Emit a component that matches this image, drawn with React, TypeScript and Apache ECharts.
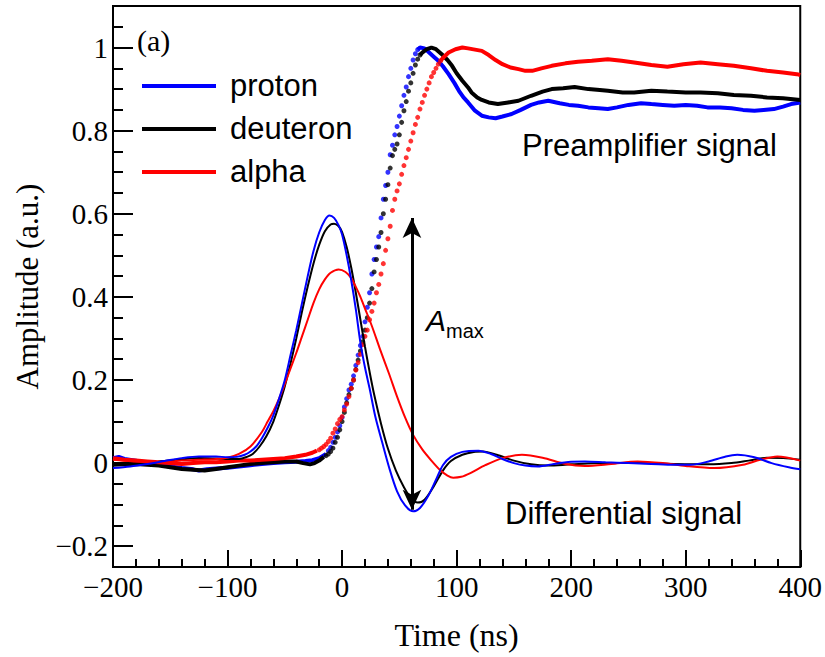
import React, { useEffect, useRef } from "react";
import * as echarts from "echarts";

// ---------------- data (time in ns, amplitude in a.u.) ----------------
const xTicks = [-200, -100, 0, 100, 200, 300, 400];
const yMajorTicks = [-0.2, 0, 0.2, 0.4, 0.6, 0.8, 1.0];
const particles = ["proton", "deuteron", "alpha"];
const colors = ["#0000ff", "#000000", "#ff0000"];

// Differential (shaped) signals
const protonDiff = [
  [-200, -0.012], [-185, -0.008], [-170, -0.002], [-155, 0.005], [-140, 0.012], [-125, 0.016],
  [-110, 0.016], [-100, 0.014], [-92, 0.015], [-85, 0.02], [-80, 0.028], [-75, 0.04], [-70, 0.06],
  [-65, 0.085], [-60, 0.115], [-55, 0.155], [-50, 0.2], [-45, 0.26], [-40, 0.32], [-35, 0.385],
  [-30, 0.45], [-25, 0.51], [-20, 0.555], [-15, 0.585], [-11, 0.596], [-7, 0.59], [-3, 0.572],
  [0, 0.55], [4, 0.5], [8, 0.44], [12, 0.37], [16, 0.29], [20, 0.23], [24, 0.18], [29, 0.112],
  [35, 0.05], [41, -0.01], [48, -0.068], [55, -0.102], [62, -0.116], [68, -0.108], [75, -0.08],
  [82, -0.04], [88, -0.005], [95, 0.015], [105, 0.027], [119, 0.03], [130, 0.022], [140, 0.01],
  [150, 0.0], [160, -0.006], [171, -0.008], [185, -0.002], [200, 0.003], [212, 0.004], [230, 0.002],
  [250, 0.0], [270, -0.002], [290, -0.004], [304, -0.004], [320, 0.004], [335, 0.016], [345, 0.02],
  [360, 0.014], [375, 0.0], [390, -0.01], [400, -0.015],
];
const deuteronDiff = [
  [-200, -0.003], [-185, -0.002], [-170, 0.0], [-155, 0.005], [-140, 0.009], [-125, 0.012],
  [-110, 0.011], [-100, 0.01], [-90, 0.01], [-83, 0.015], [-78, 0.022], [-72, 0.04], [-66, 0.065],
  [-60, 0.1], [-55, 0.14], [-50, 0.185], [-45, 0.24], [-40, 0.3], [-35, 0.365], [-30, 0.425],
  [-25, 0.48], [-20, 0.525], [-15, 0.558], [-10, 0.574], [-7, 0.576], [-3, 0.57], [0, 0.556],
  [4, 0.52], [8, 0.47], [12, 0.41], [16, 0.345], [20, 0.28], [24, 0.22], [28, 0.165], [34, 0.095],
  [40, 0.035], [47, -0.018], [54, -0.058], [60, -0.084], [66, -0.095], [72, -0.088], [80, -0.056],
  [88, -0.018], [95, 0.005], [105, 0.02], [115, 0.027], [123, 0.028], [135, 0.02], [150, 0.006],
  [165, -0.003], [180, -0.006], [200, -0.003], [230, 0.0], [260, 0.0], [290, -0.002], [320, -0.003],
  [340, 0.0], [355, 0.006], [371, 0.013], [385, 0.012], [400, 0.008],
];
const alphaDiff = [
  [-200, 0.008], [-185, 0.005], [-170, 0.002], [-155, 0.003], [-140, 0.006], [-125, 0.008],
  [-110, 0.01], [-100, 0.013], [-90, 0.022], [-80, 0.04], [-70, 0.075], [-65, 0.1], [-60, 0.125],
  [-55, 0.155], [-50, 0.19], [-45, 0.228], [-40, 0.265], [-35, 0.305], [-30, 0.345], [-25, 0.385],
  [-20, 0.418], [-15, 0.442], [-10, 0.458], [-3, 0.466], [3, 0.46], [8, 0.445], [12, 0.424],
  [16, 0.4], [20, 0.372], [26, 0.33], [33, 0.275], [41, 0.215], [48, 0.16], [55, 0.11], [62, 0.068],
  [70, 0.033], [78, 0.006], [86, -0.018], [92, -0.03], [97, -0.035], [104, -0.033], [112, -0.024],
  [125, -0.005], [140, 0.012], [157, 0.02], [175, 0.013], [195, -0.002], [212, -0.007], [235, -0.002],
  [258, 0.004], [280, 0.0], [300, -0.007], [325, -0.012], [350, -0.004], [365, 0.008], [380, 0.016],
  [400, 0.006],
];

// Preamplifier signals: baseline, sampled rise (dots), tail
const protonPreBase = [
  [-200, 0.012], [-195, 0.015], [-190, 0.01], [-180, 0.006], [-170, 0.0], [-160, -0.004],
  [-150, -0.008], [-140, -0.012], [-130, -0.015], [-125, -0.018], [-118, -0.015], [-110, -0.013],
  [-100, -0.011], [-90, -0.008], [-80, -0.005], [-70, -0.002], [-60, 0.0], [-50, 0.002],
  [-40, 0.003], [-32, 0.005], [-26, 0.007], [-20, 0.012], [-14, 0.022],
];
const protonPreRise = [
  [-12, 0.03], [-10, 0.038], [-8, 0.05], [-6, 0.062], [-4, 0.075], [-2, 0.09], [0, 0.11],
  [2, 0.135], [4, 0.155], [6, 0.176], [8, 0.19], [10, 0.21], [12, 0.235], [14, 0.26], [16, 0.283],
  [18, 0.305], [20, 0.34], [22, 0.375], [24, 0.41], [26, 0.455], [28, 0.49], [30, 0.52], [32, 0.545],
  [34, 0.59], [36, 0.635], [38, 0.668], [40, 0.7], [42, 0.742], [44, 0.765], [46, 0.79], [48, 0.81],
  [50, 0.835], [52, 0.86], [54, 0.885], [56, 0.905], [58, 0.93], [60, 0.95], [62, 0.97],
  [64, 0.985], [66, 0.995],
];
const protonPreTail = [
  [66, 0.995], [68, 1.0], [72, 0.998], [76, 0.988], [80, 0.978], [84, 0.968], [88, 0.955],
  [93, 0.936], [98, 0.915], [102, 0.896], [106, 0.88], [110, 0.868], [116, 0.848], [122, 0.836],
  [128, 0.832], [134, 0.83], [140, 0.834], [148, 0.84], [156, 0.85], [165, 0.862], [172, 0.868],
  [180, 0.872], [190, 0.866], [198, 0.862], [206, 0.86], [215, 0.856], [224, 0.854], [232, 0.852],
  [240, 0.856], [250, 0.862], [261, 0.866], [270, 0.864], [280, 0.862], [290, 0.86], [300, 0.862],
  [310, 0.86], [319, 0.856], [330, 0.856], [340, 0.854], [350, 0.85], [360, 0.848], [368, 0.85],
  [377, 0.852], [385, 0.858], [392, 0.864], [400, 0.868],
];
const deuteronPreBase = [
  [-200, -0.004], [-190, -0.003], [-180, -0.002], [-170, -0.004], [-160, -0.006], [-150, -0.01],
  [-140, -0.014], [-130, -0.016], [-120, -0.018], [-110, -0.014], [-100, -0.01], [-90, -0.006],
  [-80, -0.002], [-70, 0.0], [-60, 0.002], [-50, 0.004], [-40, 0.004], [-34, 0.0], [-28, -0.003],
  [-24, 0.0], [-20, 0.006], [-16, 0.015],
];
const deuteronPreRise = [
  [-14, 0.018], [-12, 0.022], [-10, 0.028], [-8, 0.036], [-6, 0.05], [-4, 0.062], [-2, 0.08],
  [0, 0.1], [2, 0.122], [4, 0.145], [6, 0.165], [8, 0.18], [10, 0.2], [12, 0.225], [14, 0.248],
  [16, 0.27], [18, 0.292], [20, 0.32], [22, 0.35], [24, 0.385], [26, 0.42], [28, 0.46], [30, 0.49],
  [32, 0.52], [34, 0.555], [36, 0.6], [38, 0.635], [40, 0.67], [42, 0.71], [44, 0.74], [46, 0.755],
  [48, 0.768], [50, 0.79], [52, 0.82], [54, 0.848], [56, 0.87], [58, 0.895], [60, 0.915],
  [62, 0.938], [64, 0.958], [66, 0.972], [68, 0.982],
];
const deuteronPreTail = [
  [68, 0.982], [70, 0.988], [74, 0.996], [78, 1.0], [82, 0.996], [87, 0.984], [92, 0.97],
  [96, 0.956], [100, 0.938], [105, 0.92], [110, 0.904], [113, 0.892], [118, 0.88], [122, 0.874],
  [128, 0.868], [136, 0.864], [145, 0.868], [154, 0.872], [165, 0.884], [175, 0.894], [183, 0.9],
  [193, 0.902], [203, 0.905], [215, 0.9], [225, 0.898], [232, 0.896], [245, 0.892], [255, 0.892],
  [270, 0.896], [284, 0.894], [300, 0.892], [313, 0.892], [328, 0.89], [342, 0.886], [357, 0.884],
  [371, 0.88], [385, 0.878], [400, 0.874],
];
const alphaPreBase = [
  [-200, 0.012], [-190, 0.008], [-180, 0.006], [-170, 0.004], [-160, 0.002], [-150, 0.0],
  [-140, -0.002], [-130, 0.0], [-120, 0.002], [-110, 0.002], [-100, 0.004], [-90, 0.006],
  [-80, 0.006], [-70, 0.008], [-60, 0.01], [-50, 0.012], [-40, 0.016], [-32, 0.02], [-26, 0.025],
  [-22, 0.03],
];
const alphaPreRise = [
  [-20, 0.032], [-18, 0.036], [-16, 0.04], [-14, 0.045], [-12, 0.052], [-10, 0.06], [-8, 0.072],
  [-6, 0.082], [-4, 0.095], [-2, 0.105], [0, 0.112], [2, 0.128], [4, 0.142], [6, 0.16], [8, 0.18],
  [10, 0.2], [12, 0.224], [14, 0.242], [16, 0.262], [18, 0.285], [20, 0.305], [22, 0.32],
  [24, 0.345], [26, 0.365], [28, 0.385], [30, 0.41], [32, 0.43], [34, 0.455], [36, 0.48],
  [38, 0.512], [40, 0.54], [42, 0.57], [44, 0.608], [46, 0.635], [48, 0.655], [50, 0.672],
  [52, 0.695], [54, 0.716], [56, 0.735], [58, 0.755], [60, 0.775], [62, 0.795], [64, 0.815],
  [66, 0.832], [68, 0.852], [70, 0.868], [72, 0.885], [74, 0.9], [76, 0.915], [78, 0.93],
  [80, 0.94], [82, 0.95], [84, 0.96], [86, 0.968],
];
const alphaPreTail = [
  [86, 0.968], [88, 0.975], [93, 0.988], [99, 0.996], [105, 1.0], [110, 0.998], [116, 0.995],
  [122, 0.992], [128, 0.982], [134, 0.97], [140, 0.96], [147, 0.952], [154, 0.948], [160, 0.944],
  [166, 0.944], [174, 0.95], [183, 0.956], [195, 0.962], [206, 0.966], [218, 0.968], [232, 0.972],
  [244, 0.968], [255, 0.964], [270, 0.958], [284, 0.954], [298, 0.96], [313, 0.964], [328, 0.96],
  [342, 0.956], [357, 0.95], [371, 0.944], [385, 0.94], [397, 0.936], [400, 0.934],
];

// A_max arrow (time, from amplitude, to amplitude)
const arrowTime = 61;
const arrowFrom = -0.112;
const arrowTo = 0.59;

const SERIF = "'Liberation Serif', 'Times New Roman', serif";
const SANS = "'Liberation Sans', Helvetica, Arial, sans-serif";

const fmt = (v: number) => String(+(+v).toFixed(2)).replace("-", "\u2212");

export default function App() {
  const ref = useRef<HTMLDivElement>(null);
  useEffect(() => {
    if (!ref.current) return;
    const chart = echarts.init(ref.current, undefined, { renderer: "svg" });

    const diffs = [protonDiff, deuteronDiff, alphaDiff];
    const bases = [protonPreBase, deuteronPreBase, alphaPreBase];
    const rises = [protonPreRise, deuteronPreRise, alphaPreRise];
    const tails = [protonPreTail, deuteronPreTail, alphaPreTail];

    const series: any[] = [];
    particles.forEach((p, i) => {
      series.push({
        name: p + " preamp base", type: "line", data: bases[i], showSymbol: false,
        lineStyle: { color: colors[i], width: 4 }, z: 2,
      });
      series.push({
        name: p + " preamp rise", type: "scatter", data: rises[i], symbol: "circle", symbolSize: 5,
        itemStyle: { color: colors[i] }, z: 2,
      });
      series.push({
        name: p + " preamp tail", type: "line", data: tails[i], showSymbol: false,
        lineStyle: { color: colors[i], width: 4 }, z: 2,
      });
    });
    [1, 2, 0].forEach((i) => {
      const s: any = {
        name: particles[i], type: "line", data: diffs[i], showSymbol: false, smooth: 0.3,
        lineStyle: { color: colors[i], width: 2 }, z: 3,
      };
      if (i === 0) {
        s.markLine = {
          silent: true,
          symbol: ["arrow", "arrow"],
          symbolSize: [14, 20],
          label: { show: false },
          lineStyle: { color: "#000", width: 3, type: "solid" },
          data: [[{ coord: [arrowTime, arrowFrom] }, { coord: [arrowTime, arrowTo] }]],
        };
      }
      series.push(s);
    });

    const legendGraphics: any[] = [];
    particles.forEach((p, i) => {
      const y = 86 + i * 43;
      legendGraphics.push({
        type: "line", shape: { x1: 142, y1: y, x2: 216, y2: y },
        style: { stroke: colors[i], lineWidth: 4 },
      });
      legendGraphics.push({
        type: "text", x: 230, y: y - 1,
        style: { text: p, fill: "#000", font: `31px ${SANS}`, textVerticalAlign: "middle" },
      });
    });

    chart.setOption({
      animation: false,
      backgroundColor: "#fff",
      grid: {
        left: 113, right: 22, top: 6, bottom: 90,
        show: true, borderColor: "#000", borderWidth: 2, backgroundColor: "transparent",
      },
      xAxis: {
        type: "value", min: xTicks[0], max: xTicks[xTicks.length - 1], interval: 100,
        name: "Time (ns)", nameLocation: "middle", nameGap: 52,
        nameTextStyle: { fontFamily: SERIF, fontSize: 32, color: "#000" },
        axisLine: { show: true, onZero: false, lineStyle: { color: "#000", width: 2 } },
        axisTick: { show: true, inside: true, length: 17, lineStyle: { color: "#000", width: 2 } },
        minorTick: { show: true, splitNumber: 5, length: 8, lineStyle: { color: "#000", width: 2 } },
        axisLabel: { fontFamily: SERIF, fontSize: 29, color: "#000", margin: 5, formatter: fmt },
        splitLine: { show: false },
      },
      yAxis: [
        {
          type: "value", min: -0.25, max: 1.1, interval: 0.05, position: "left",
          axisLine: { show: true, onZero: false, lineStyle: { color: "#000", width: 2 } },
          axisTick: { show: true, inside: true, length: 10, lineStyle: { color: "#000", width: 2 } },
          axisLabel: { show: false },
          splitLine: { show: false },
        },
        {
          type: "value", min: -0.25, max: 1.1, interval: 0.05, position: "left", offset: 0,
          name: "Amplitude (a.u.)", nameLocation: "middle", nameGap: 70,
          nameTextStyle: { fontFamily: SERIF, fontSize: 31, color: "#000" },
          axisLine: { show: false, onZero: false },
          axisTick: {
            show: true, inside: true, length: 20, customValues: yMajorTicks,
            lineStyle: { color: "#000", width: 2 },
          },
          axisLabel: {
            show: true, customValues: yMajorTicks, fontFamily: SERIF, fontSize: 29, color: "#000",
            margin: 5, formatter: fmt,
          },
          splitLine: { show: false },
        },
      ],
      series,
      graphic: [
        ...legendGraphics,
        {
          type: "text", x: 137, y: 40,
          style: { text: "(a)", fill: "#000", font: `30px ${SERIF}`, textVerticalAlign: "middle" },
        },
        {
          type: "text", x: 522, y: 145,
          style: { text: "Preamplifier signal", fill: "#000", font: `31px ${SANS}`, textVerticalAlign: "middle" },
        },
        {
          type: "text", x: 505, y: 513,
          style: { text: "Differential signal", fill: "#000", font: `31px ${SANS}`, textVerticalAlign: "middle" },
        },
        {
          type: "text", x: 426, y: 320,
          style: { text: "A", fill: "#000", font: `italic 30px ${SANS}`, textVerticalAlign: "middle" },
        },
        {
          type: "text", x: 446, y: 331,
          style: { text: "max", fill: "#000", font: `20px ${SANS}`, textVerticalAlign: "middle" },
        },
      ],
    });
    return () => chart.dispose();
  }, []);
  return (
    <div
      ref={ref}
      style={{ position: "fixed", left: 0, top: 0, width: 825, height: 657, background: "#fff" }}
    />
  );
}
